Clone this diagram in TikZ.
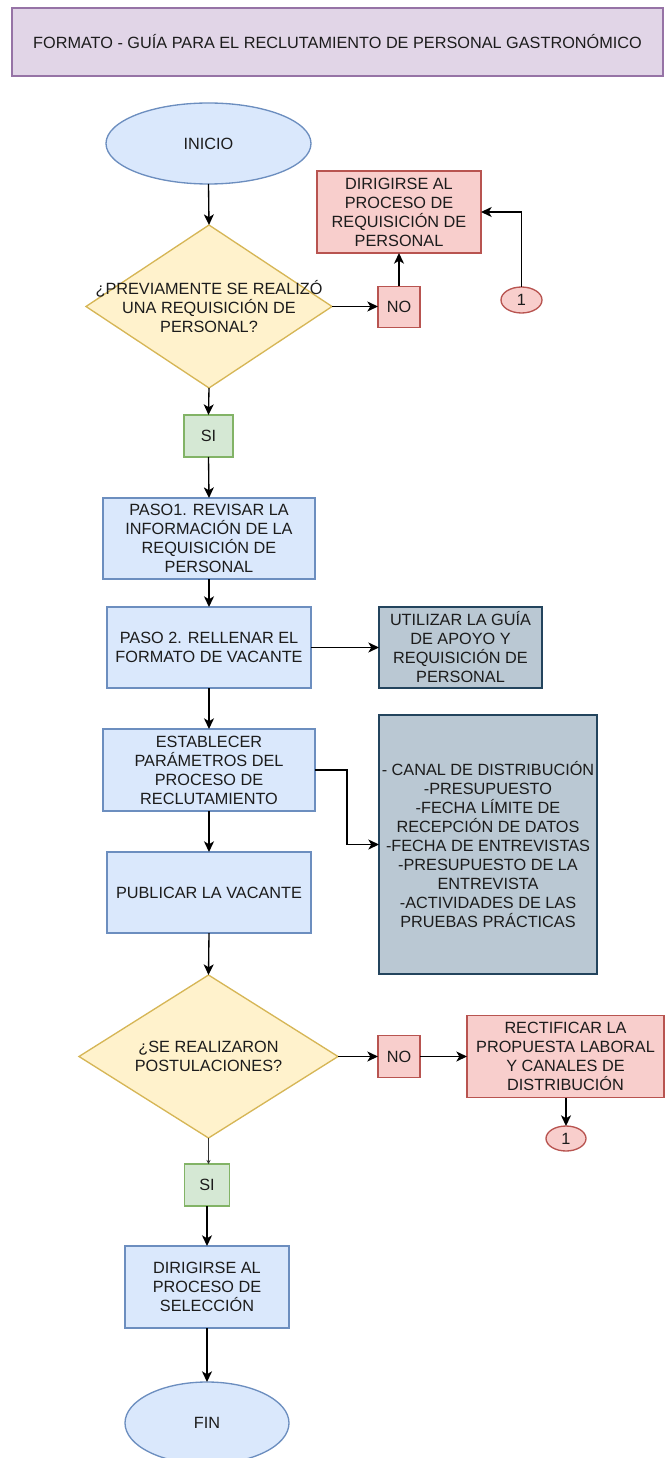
\documentclass[tikz,border=0pt]{standalone}
\usepackage{fontspec}
\setmainfont{Liberation Sans}
\usetikzlibrary{shapes.geometric,arrows.meta}

\definecolor{blueFill}{HTML}{DAE8FC}
\definecolor{blueLine}{HTML}{6C8EBF}
\definecolor{yellowFill}{HTML}{FFF2CC}
\definecolor{yellowLine}{HTML}{D6B656}
\definecolor{redFill}{HTML}{F8CECC}
\definecolor{redLine}{HTML}{B85450}
\definecolor{greenFill}{HTML}{D5E8D4}
\definecolor{greenLine}{HTML}{82B366}
\definecolor{slateFill}{HTML}{BAC8D3}
\definecolor{slateLine}{HTML}{23445D}
\definecolor{purpleFill}{HTML}{E1D5E7}
\definecolor{purpleLine}{HTML}{9673A6}
\definecolor{ink}{HTML}{1C1C1C}

\tikzset{
  sz/.style 2 args={minimum width=#1*0.75pt, minimum height=#2*0.75pt},
  base/.style={inner sep=0pt, outer sep=0pt, line width=1pt, align=center,
    text=ink, font=\fontsize{12.2pt}{14.25pt}\selectfont},
  procbox/.style={base, rectangle, draw=blueLine, fill=blueFill},
  terminal/.style={base, ellipse, draw=blueLine, fill=blueFill},
  decision/.style={base, diamond, draw=yellowLine, fill=yellowFill},
  nobox/.style={base, rectangle, draw=redLine, fill=redFill},
  yesbox/.style={base, rectangle, draw=greenLine, fill=greenFill},
  notebox/.style={base, rectangle, draw=slateLine, fill=slateFill},
  jump/.style={base, ellipse, draw=redLine, fill=redFill},
  label/.style={base},
  flow/.style={line width=1pt, draw=black, -{Stealth[length=8pt,width=7.5pt,inset=2.2pt]}},
  smallflow/.style={line width=1pt, draw=black!80, -{Stealth[length=3pt,width=3pt]}},
}

\begin{document}
\begin{tikzpicture}[x=0.75pt,y=-0.75pt]
\useasboundingbox (0,0) rectangle (665,1458);

% title banner
\node[base, rectangle, draw=purpleLine, fill=purpleFill, sz={651}{68}] (title) at (337.5,42)
  {FORMATO - GUÍA PARA EL RECLUTAMIENTO DE PERSONAL GASTRONÓMICO};

% first decision block
\node[terminal, sz={205}{81}] (inicio) at (208.5,143.5) {INICIO};
\node[decision, sz={246}{163}] (d1) at (209,306.5) {};
\node[label] (d1t) at (d1.center) {¿PREVIAMENTE SE REALIZÓ\\UNA REQUISICIÓN DE\\PERSONAL?};
\node[nobox, sz={42}{41}] (no1) at (399,307) {NO};
\node[nobox, sz={164}{82}] (req) at (399,212) {DIRIGIRSE AL\\PROCESO DE\\REQUISICIÓN DE\\PERSONAL};
\node[jump, sz={41}{26}] (c1) at (521.5,300) {1};
\node[yesbox, sz={49}{42}] (si1) at (208.5,436) {SI};

% steps
\node[procbox, sz={212}{81}] (p1) at (209,538.5) {PASO1. REVISAR LA\\INFORMACIÓN DE LA\\REQUISICIÓN DE\\PERSONAL};
\node[procbox, sz={204}{81}] (p2) at (209,647.5) {PASO 2. RELLENAR EL\\FORMATO DE VACANTE};
\node[notebox, sz={163}{81}] (g1) at (460.5,647.5) {UTILIZAR LA GUÍA\\DE APOYO Y\\REQUISICIÓN DE\\PERSONAL};
\node[procbox, sz={212}{82}] (est) at (209,770) {ESTABLECER\\PARÁMETROS DEL\\PROCESO DE\\RECLUTAMIENTO};
\node[notebox, sz={218}{259}] (g2) at (488,844.5) {- CANAL DE DISTRIBUCIÓN\\-PRESUPUESTO\\-FECHA LÍMITE DE\\RECEPCIÓN DE DATOS\\-FECHA DE ENTREVISTAS\\-PRESUPUESTO DE LA\\ENTREVISTA\\-ACTIVIDADES DE LAS\\PRUEBAS PRÁCTICAS};
\node[procbox, sz={204}{81}] (pub) at (209,892.5) {PUBLICAR LA VACANTE};

% second decision block
\node[decision, sz={259}{163}] (d2) at (208.5,1056.5) {};
\node[label] (d2t) at (d2.center) {¿SE REALIZARON\\POSTULACIONES?};
\node[nobox, sz={42}{42}] (no2) at (399,1056.5) {NO};
\node[nobox, sz={197}{82}] (rect) at (565.5,1056.5) {RECTIFICAR LA\\PROPUESTA LABORAL\\Y CANALES DE\\DISTRIBUCIÓN};
\node[jump, sz={40}{25}] (c2) at (566,1138.5) {1};
\node[yesbox, sz={45}{42}] (si2) at (207,1185) {SI};
\node[procbox, sz={164}{82}] (sel) at (207,1287) {DIRIGIRSE AL\\PROCESO DE\\SELECCIÓN};
\node[terminal, sz={164}{82}] (fin) at (207,1423) {FIN};

% connectors
\draw[flow] (inicio.south) -- (d1.north);
\draw[flow] (d1.east) -- (d1.east -| no1.west);
\draw[flow] (no1.north) -- (req.south);
\draw[flow] (c1.north) |- (req.east);
\draw[flow] (d1.south) -- (si1.north);
\draw[flow] (si1.south) -- (p1.north);
\draw[flow] (p1.south) -- (p2.north);
\draw[flow] (p2.east) -- (g1.west);
\draw[flow] (p2.south) -- (est.north);
\draw[flow] (est.east) -- ++(32,0) |- (g2.west);
\draw[flow] (est.south) -- (pub.north);
\draw[flow] (pub.south) -- (d2.north);
\draw[flow] (d2.east) -- (no2.west);
\draw[flow] (no2.east) -- (rect.west);
\draw[flow] (rect.south -| c2.north) -- (c2.north);
\draw[smallflow] (d2.south) -- (si2.north -| d2.south);
\draw[flow] (si2.south) -- (sel.north);
\draw[flow] (sel.south) -- (fin.north);
\end{tikzpicture}
\end{document}
